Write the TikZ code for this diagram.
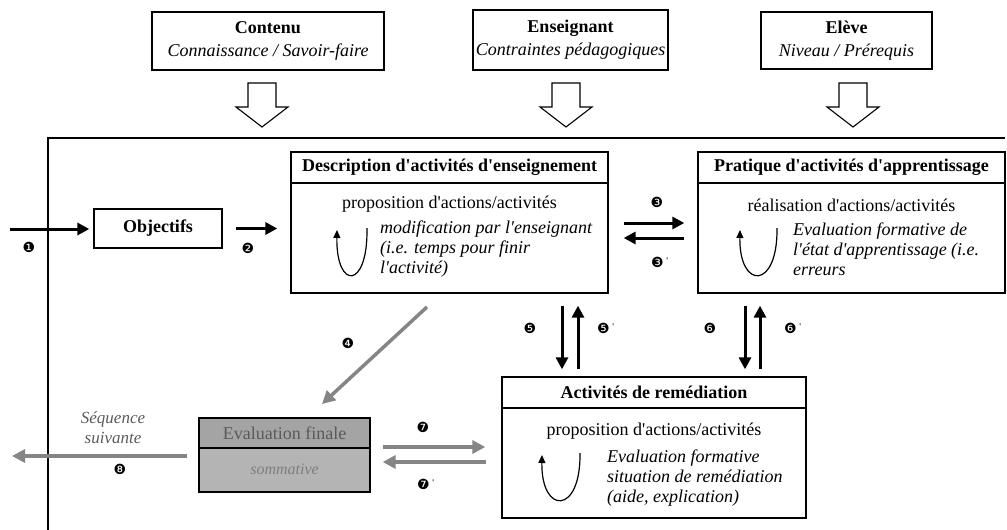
\documentclass[tikz,border=0pt]{standalone}
\usepackage{fontspec}
\setmainfont{Liberation Serif}[Ligatures=TeXOff]
\newfontfamily\dingfont{DejaVu Sans}
\usetikzlibrary{arrows.meta,calc}
\definecolor{evgray}{HTML}{B4B4B4}
\definecolor{evtext}{HTML}{5A5A5A}
\definecolor{arrgray}{HTML}{858585}
\begin{document}
\begin{tikzpicture}[x=1pt,y=-1pt,
  txt/.style={font=\fontsize{18}{20}\selectfont, inner sep=0pt},
  itxt/.style={font=\fontsize{18}{20}\selectfont\itshape, inner sep=0pt, align=left, anchor=west},
  box/.style={draw, line width=1.3pt, inner sep=0pt},
  headbox/.style={draw, line width=1.3pt, inner sep=0pt, minimum height=31pt, anchor=north,
     font=\fontsize{18}{20}\selectfont\bfseries},
  topbox/.style={draw, line width=1.1pt, inner sep=0pt, align=center,
     font=\fontsize{18}{23}\selectfont},
  hollow/.style={draw, line width=1.1pt, fill=white},
  bigarrow/.style={line width=3pt, -{Triangle[length=12pt,width=12pt]}},
  grayarrow/.style={draw=arrgray, line width=3.5pt, -{Triangle[length=13pt,width=13pt]}},
  looparrow/.style={line width=1.2pt, -{Triangle[length=8pt,width=7pt]}},
  num/.style={font=\dingfont\fontsize{14}{14}\selectfont, inner sep=0pt},
]
\useasboundingbox (0,0) rectangle (1007,530);

% frame
\coordinate (frTR) at (1005,138);
\coordinate (frTL) at (48,138);
\coordinate (frBL) at (48,530);
\draw[line width=1.8pt] (frTR) -- (frTL) -- (frBL);

% top boxes
\node[topbox, minimum width=232pt, minimum height=58pt] (contenu) at (268,41)
  {\textbf{Contenu}\\\textit{Connaissance / Savoir-faire}};
\node[topbox, minimum width=195pt, minimum height=60pt] (ens) at (570.5,40)
  {\textbf{Enseignant}\\\textit{Contraintes pédagogiques}};
\node[topbox, minimum width=171pt, minimum height=57pt] (eleve) at (846.5,40.5)
  {\textbf{Elève}\\\textit{Niveau / Prérequis}};

% hollow arrows
\foreach \xx in {262,566,853}{
  \draw[hollow, shift={(\xx,83)}] (-14,0) -- (14,0) -- (14,24) -- (26,24) -- (0,44)
     -- (-26,24) -- (-14,24) -- cycle;
}

% Objectifs
\node[box, minimum width=128pt, minimum height=39pt, font=\fontsize{18}{20}\selectfont\bfseries]
  (obj) at (158,228.5) {Objectifs};

% Description box
\node[box, minimum width=317pt, minimum height=141pt] (desc) at (449.5,222.5) {};
\node[headbox, minimum width=317pt] (deschead) at (desc.north) {Description d'activités d'enseignement};
\node[txt] (descp) at (449.5,204) {proposition d'actions/activités};
\node[itxt] (desci) at (380,249) {modification par l'enseignant\\(i.e. temps pour finir\\l'activité)};
\draw[looparrow] (367,228) .. controls (368,290) and (336,290) .. (337,230);

% Pratique box
\node[box, minimum width=307pt, minimum height=141pt] (prat) at (851.5,222.5) {};
\node[headbox, minimum width=307pt] (prathead) at (prat.north) {Pratique d'activités d'apprentissage};
\node[txt] (pratp) at (851.5,205) {réalisation d'actions/activités};
\node[itxt] (prati) at (793,249) {Evaluation formative de\\l'état d'apprentissage (i.e.\\erreurs};
\draw[looparrow] (777,228) .. controls (778,290) and (739,290) .. (740,230);

% Remediation box
\node[box, minimum width=304pt, minimum height=141pt] (rem) at (654,447.5) {};
\node[headbox, minimum width=304pt] (remhead) at (rem.north) {Activités de remédiation};
\node[txt] (remp) at (654,431) {proposition d'actions/activités};
\node[itxt] (remi) at (607,478) {Evaluation formative\\situation de remédiation\\(aide, explication)};
\draw[looparrow] (580,453) .. controls (581,515) and (541,515) .. (542,455);

% Evaluation finale
\node[box, fill=evgray, minimum width=171pt, minimum height=74pt] (evalf) at (284.5,455) {};
\node[box, fill=evgray!85!black!60!evgray, minimum width=171pt, minimum height=30pt, anchor=north,
  font=\fontsize{18}{20}\selectfont, text=evtext] (evalhead) at (evalf.north) {Evaluation finale};
\node[txt, font=\fontsize{16}{18}\selectfont\itshape, text=evtext!60!evgray] (evalsub) at (284.5,469) {sommative};

% arrows 1 and 2
\coordinate (start1) at (10,229);
\draw[bigarrow, shorten >=4pt] (start1) -- (obj.west |- start1);
\draw[bigarrow, shorten <=13pt, shorten >=13pt] (obj.east) -- (obj.east -| desc.west);

% arrows 3
\coordinate (y3a) at (0,223);
\coordinate (y3b) at (0,238);
\draw[bigarrow, shorten <=15pt, shorten >=13pt] (desc.east |- y3a) -- (prat.west |- y3a);
\draw[bigarrow, shorten <=13pt, shorten >=15pt] (prat.west |- y3b) -- (desc.east |- y3b);

% arrows 5 and 6
\coordinate (x5a) at (562,0);
\coordinate (x5b) at (578,0);
\coordinate (x6a) at (745,0);
\coordinate (x6b) at (760,0);
\draw[bigarrow, shorten <=12pt, shorten >=7pt] (x5a |- desc.south) -- (x5a |- rem.north);
\draw[bigarrow, shorten <=7pt, shorten >=12pt] (x5b |- rem.north) -- (x5b |- desc.south);
\draw[bigarrow, shorten <=12pt, shorten >=7pt] (x6a |- prat.south) -- (x6a |- rem.north);
\draw[bigarrow, shorten <=7pt, shorten >=12pt] (x6b |- rem.north) -- (x6b |- prat.south);

% arrow 4
\coordinate (a4s) at (427,307);
\coordinate (a4e) at (322,404);
\draw[grayarrow] (a4s) -- (a4e);

% arrows 7
\coordinate (y7a) at (0,447);
\coordinate (y7b) at (0,462);
\draw[grayarrow, shorten <=12pt, shorten >=16pt] (evalf.east |- y7a) -- (rem.west |- y7a);
\draw[grayarrow, shorten <=15pt, shorten >=12pt] (rem.west |- y7b) -- (evalf.east |- y7b);

% arrow 8
\coordinate (seq) at (12,456);
\draw[grayarrow, shorten <=11pt] (evalf.west |- seq) -- (seq);
\node[txt, font=\fontsize{17}{20}\selectfont\itshape, text=evtext, align=center] (seqlbl) at (113,428)
  {Séquence\\suivante};

% number labels
\node[num] (n1) at (29,247) {❶};
\node[num] (n2) at (248,248) {❷};
\node[num] (n3) at (657,202) {❸};
\node[num, anchor=west] (n3p) at (651,262) {❸\,\raisebox{4pt}{\fontsize{8}{8}\selectfont '}};
\node[num] (n4) at (348,343) {❹};
\node[num] (n5) at (530,328) {❺};
\node[num, anchor=west] (n5p) at (597,328) {❺\,\raisebox{4pt}{\fontsize{8}{8}\selectfont '}};
\node[num] (n6) at (710,328) {❻};
\node[num, anchor=west] (n6p) at (784,328) {❻\,\raisebox{4pt}{\fontsize{8}{8}\selectfont '}};
\node[num] (n7) at (423,427) {❼};
\node[num, anchor=west] (n7p) at (417,484) {❼\,\raisebox{4pt}{\fontsize{8}{8}\selectfont '}};
\node[num] (n8) at (120,469) {❽};
\end{tikzpicture}
\end{document}
